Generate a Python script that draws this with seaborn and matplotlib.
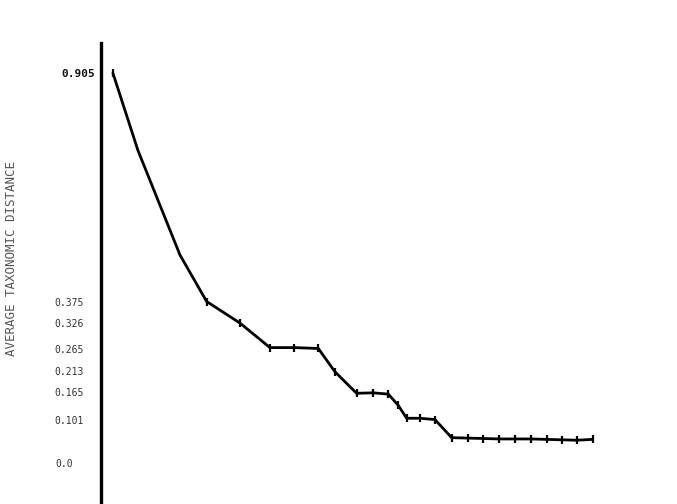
import matplotlib
matplotlib.use("Agg")
import matplotlib.pyplot as plt
from matplotlib.transforms import ScaledTranslation
import seaborn as sns
import pandas as pd

# fusion steps (horizontal position) and distance levels
steps = [0.0, 1.59, 4.27, 5.97, 8.09, 10.0, 11.53, 13.08, 14.14, 15.52, 16.58,
         17.54, 18.15, 18.71, 19.55, 20.51, 21.57, 22.59, 23.59, 24.59, 25.61,
         26.62, 27.62, 28.58, 29.54, 30.55]
distance = [0.905, 0.726, 0.483, 0.375, 0.325, 0.268, 0.268, 0.266, 0.212,
            0.162, 0.163, 0.160, 0.135, 0.104, 0.104, 0.101, 0.059, 0.058,
            0.057, 0.056, 0.056, 0.056, 0.055, 0.054, 0.053, 0.055]
marked = [True, False, False, True, True, True, True, True, True, True, True,
          True, True, True, True, True, True, True, True, True, True, True,
          True, True, True, True]

tick_values = [0.0, 0.101, 0.165, 0.213, 0.265, 0.326, 0.375, 0.905]
tick_labels = ["0.0", "0.101", "0.165", "0.213", "0.265", "0.326", "0.375", "0.905"]
y_label = "AVERAGE TAXONOMIC DISTANCE"

df = pd.DataFrame({"step": steps, "distance": distance})

sns.set_style("white")
plt.rcParams["font.family"] = ["DejaVu Sans Mono", "DejaVu Sans"]

fig = plt.figure(figsize=(6.77, 5.04), dpi=100)
ax = fig.add_axes([101 / 677, 0.0, (640 - 101) / 677, 1 - 43 / 504])

sns.lineplot(data=df, x="step", y="distance", ax=ax, color="black",
             linewidth=2.0, sort=False)
mk = df[marked]
ax.plot(mk["step"], mk["distance"], linestyle="none", marker="|",
        markersize=6, markeredgewidth=1.6, color="black")

ax.set_xlim(-0.76, 33.57)
ax.set_ylim(-0.095, 0.975)
ax.set_xticks([])
ax.set_xlabel("")
ax.set_ylabel("")

for s in ["top", "right", "bottom"]:
    ax.spines[s].set_visible(False)
ax.spines["left"].set_linewidth(2.4)
ax.spines["left"].set_color("black")

ax.set_yticks(tick_values)
ax.set_yticklabels(tick_labels)
ax.tick_params(axis="y", direction="in", length=6, width=1.5, pad=9,
               labelsize=7, labelcolor="#333333", colors="black")
ax.yaxis.get_major_ticks()[0].tick1line.set_visible(False)
for lbl in ax.get_yticklabels():
    t = lbl.get_text()
    if t == "0.905":
        lbl.set_fontweight("bold")
        lbl.set_fontsize(8)
        lbl.set_color("#111111")
        dx = 7 / 100
    elif t == "0.0":
        dx = -15 / 100
    else:
        dx = -5 / 100
    lbl.set_transform(lbl.get_transform() + ScaledTranslation(dx, 0, fig.dpi_scale_trans))

fig.text(12 / 677, 1 - 258 / 504, y_label, rotation=90, ha="center",
         va="center", fontsize=9, color="#555555")

fig.savefig("out.png", dpi=100, facecolor="white")
